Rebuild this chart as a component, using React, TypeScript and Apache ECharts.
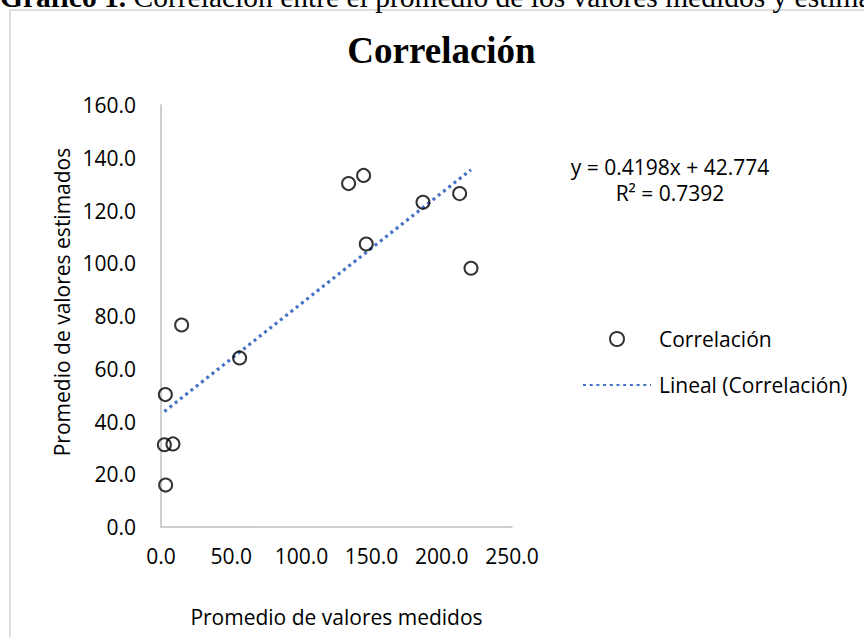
import React, { useEffect, useRef } from "react";
import * as echarts from "echarts";

const measured = [3.1, 2.4, 8.5, 3.3, 14.7, 56.0, 133.6, 144.3, 146.2, 186.6, 212.7, 220.8];
const estimated = [50.2, 31.2, 31.5, 15.9, 76.6, 64.1, 130.2, 133.3, 107.3, 123.1, 126.4, 98.1];
const trendSlope = 0.4198;
const trendIntercept = 42.774;
const rSquared = 0.7392;
const xTicks = { min: 0, max: 250, interval: 50 };
const yTicks = { min: 0, max: 160, interval: 20 };

const SANS = "'Open Sans', 'Noto Sans', sans-serif";
const SERIF = "'Liberation Serif', 'DejaVu Serif', serif";

export default function App() {
  const ref = useRef<HTMLDivElement>(null);
  useEffect(() => {
    if (!ref.current) return;
    const chart = echarts.init(ref.current, null, { renderer: "svg" });
    const points = measured.map((x, i) => [x, estimated[i]]);
    const xMin = Math.min(...measured);
    const xMax = Math.max(...measured);
    const trend = [
      [xMin, trendSlope * xMin + trendIntercept],
      [xMax, trendSlope * xMax + trendIntercept],
    ];
    const legendText = { fontFamily: SANS, fontSize: 21, color: "#000", lineHeight: 26, padding: [0, 0, 0, 3] };
    chart.setOption({
      animation: false,
      backgroundColor: "#fff",
      grid: { left: 161, top: 105, right: 352, bottom: 110, containLabel: false },
      xAxis: {
        type: "value",
        min: xTicks.min,
        max: xTicks.max,
        interval: xTicks.interval,
        name: "Promedio de valores medidos",
        nameLocation: "middle",
        nameGap: 79,
        nameTextStyle: { fontFamily: SANS, fontSize: 21, color: "#000" },
        axisLine: { show: true, lineStyle: { color: "#bfbfbf", width: 1.5 } },
        axisTick: { show: false },
        splitLine: { show: false },
        axisLabel: {
          fontFamily: SANS,
          fontSize: 21,
          color: "#000",
          margin: 18,
          formatter: (v: number) => v.toFixed(1),
        },
      },
      yAxis: {
        type: "value",
        min: yTicks.min,
        max: yTicks.max,
        interval: yTicks.interval,
        axisLine: { show: true, lineStyle: { color: "#bfbfbf", width: 1.5 } },
        axisTick: { show: false },
        splitLine: { show: false },
        axisLabel: {
          fontFamily: SANS,
          fontSize: 21,
          color: "#000",
          margin: 25,
          formatter: (v: number) => v.toFixed(1),
        },
      },
      legend: [
        {
          data: ["Correlación"],
          left: 609,
          top: 326,
          padding: 0,
          itemWidth: 68,
          itemHeight: 14,
          textStyle: legendText,
        },
        {
          data: ["Lineal (Correlación)"],
          left: 582,
          top: 372,
          padding: 0,
          itemWidth: 68,
          itemHeight: 14,
          itemStyle: { color: "rgba(0,0,0,0)", borderColor: "rgba(0,0,0,0)", borderWidth: 0 },
          textStyle: legendText,
        },
      ],
      graphic: [
        {
          type: "rect",
          silent: true,
          z: -10,
          shape: { x: 10, y: 10, width: 900, height: 700 },
          style: { fill: "none", stroke: "#d4d4d4", lineWidth: 1.5 },
        },
        {
          type: "text",
          x: 0,
          y: -3.5,
          style: {
            text: "{b|Gráfico 1.} Correlación entre el promedio de los valores medidos y estimados",
            font: `29.5px ${SERIF}`,
            fill: "#000",
            verticalAlign: "middle",
            rich: { b: { fontWeight: "bold", fontFamily: SERIF, fontSize: 29.5 } },
          },
        },
        {
          type: "text",
          x: 441.5,
          y: 50.5,
          style: {
            text: "Correlación",
            font: `bold 37px ${SERIF}`,
            fill: "#000",
            align: "center",
            verticalAlign: "middle",
          },
        },
        {
          type: "text",
          x: 62,
          y: 302,
          rotation: Math.PI / 2,
          style: {
            text: "Promedio de valores estimados",
            font: `21px ${SANS}`,
            fill: "#000",
            align: "center",
            verticalAlign: "middle",
          },
        },
        {
          type: "text",
          x: 670,
          y: 167,
          style: {
            text: `y = ${trendSlope}x + ${trendIntercept}`,
            font: `21px ${SANS}`,
            fill: "#000",
            align: "center",
            verticalAlign: "middle",
          },
        },
        {
          type: "text",
          x: 670,
          y: 193,
          style: {
            text: `R² = ${rSquared}`,
            font: `21px ${SANS}`,
            fill: "#000",
            align: "center",
            verticalAlign: "middle",
          },
        },
      ],
      series: [
        {
          name: "Correlación",
          type: "scatter",
          data: points,
          symbol: "circle",
          symbolSize: 13,
          itemStyle: { color: "rgba(0,0,0,0)", borderColor: "#000", borderWidth: 2 },
          z: 3,
        },
        {
          name: "Lineal (Correlación)",
          type: "line",
          data: trend,
          symbol: "none",
          lineStyle: { color: "#4472C4", width: 3.2, type: [3, 3.7], cap: "butt" },
          itemStyle: { color: "#4472C4" },
          z: 2,
        },
      ],
    });
    return () => chart.dispose();
  }, []);
  return (
    <div
      ref={ref}
      style={{ position: "fixed", left: 0, top: 0, width: 864, height: 637 }}
    />
  );
}
